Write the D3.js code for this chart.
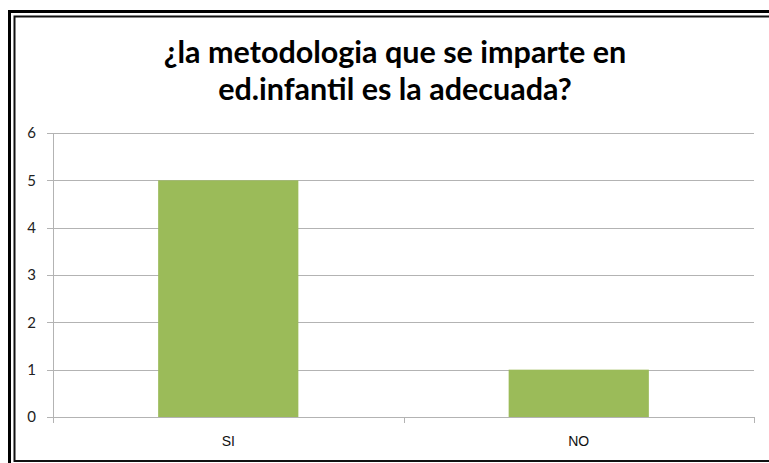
<!DOCTYPE html>
<html lang="es">
  <head>
    <meta charset="UTF-8" />
    <title>Metodologia ed.infantil</title>
    <script src="https://d3js.org/d3.v7.min.js"></script>
    <style>
      body {
        margin: 0;
        background: #fff;
      }
      svg {
        display: block;
      }
      .grid line {
        stroke: #b3b3b3;
        stroke-width: 1;
      }
      .title {
        font-family: Lato, sans-serif;
        font-weight: bold;
        font-size: 30.5px;
        fill: #000;
      }
    </style>
  </head>
  <body>
    <div id="chart"></div>
    <script>
      // datos
      const categories = ["SI", "NO"];
      const values = [5, 1];
      const yTicks = [0, 1, 2, 3, 4, 5, 6];
      const titleLines = ["¿la metodologia que se imparte en", "ed.infantil es la adecuada?"];

      const width = 769;
      const height = 463;
      const margin = { top: 133, right: 15, bottom: 46, left: 53 };
      const plotW = width - margin.left - margin.right;
      const plotH = height - margin.top - margin.bottom;

      const svg = d3
        .select("#chart")
        .append("svg")
        .attr("width", width)
        .attr("height", height);

      // marco doble
      svg.append("rect")
        .attr("x", 9.5).attr("y", 11.5)
        .attr("width", 800).attr("height", 460)
        .attr("fill", "none").attr("stroke", "#000").attr("stroke-width", 3);
      svg.append("rect")
        .attr("x", 14.5).attr("y", 16.5)
        .attr("width", 800).attr("height", 444.5)
        .attr("fill", "none").attr("stroke", "#111").attr("stroke-width", 2);

      // titulo
      svg.append("text")
        .attr("class", "title")
        .attr("text-anchor", "middle")
        .selectAll("tspan")
        .data(titleLines)
        .join("tspan")
        .attr("x", 395)
        .attr("y", (d, i) => 63 + i * 37)
        .text((d) => d);

      const g = svg.append("g")
        .attr("transform", `translate(${margin.left},${margin.top})`);

      const x = d3.scaleBand()
        .domain(categories)
        .range([0, plotW])
        .paddingInner(0.6)
        .paddingOuter(0.3);

      const y = d3.scaleLinear().domain([0, 6]).range([plotH, 0]);

      // lineas de cuadricula
      g.append("g")
        .attr("class", "grid")
        .selectAll("line")
        .data(yTicks)
        .join("line")
        .attr("x1", -6)
        .attr("x2", plotW)
        .attr("y1", (d) => Math.round(y(d)) + 0.5)
        .attr("y2", (d) => Math.round(y(d)) + 0.5);

      // eje y
      const yAxis = g.append("g")
        .call(d3.axisLeft(y).tickValues(yTicks).tickFormat(d3.format("d")).tickSize(0).tickPadding(17));
      yAxis.select(".domain").attr("stroke", "#b3b3b3").attr("d", `M0.5,${plotH}V0`);
      yAxis.selectAll("text")
        .attr("font-family", "Lato, sans-serif")
        .attr("font-size", 15)
        .attr("fill", "#222");

      // barras
      g.selectAll(".bar")
        .data(values)
        .join("rect")
        .attr("class", "bar")
        .attr("x", (d, i) => x(categories[i]))
        .attr("y", (d) => y(d))
        .attr("width", x.bandwidth())
        .attr("height", (d) => y(0) - y(d))
        .attr("fill", "#9bbb59");

      // eje x
      g.append("g")
        .selectAll("line")
        .data([0, plotW / 2, plotW])
        .join("line")
        .attr("x1", (d) => Math.round(d) + 0.5)
        .attr("x2", (d) => Math.round(d) + 0.5)
        .attr("y1", plotH)
        .attr("y2", plotH + 6)
        .attr("stroke", "#b3b3b3");
      g.append("line")
        .attr("x1", 0).attr("x2", plotW)
        .attr("y1", Math.round(plotH) + 0.5).attr("y2", Math.round(plotH) + 0.5)
        .attr("stroke", "#b3b3b3");

      g.append("g")
        .selectAll("text")
        .data(categories)
        .join("text")
        .attr("x", (d) => x(d) + x.bandwidth() / 2)
        .attr("y", plotH + 29)
        .attr("text-anchor", "middle")
        .attr("font-family", "Liberation Sans, Arial, sans-serif")
        .attr("font-size", 14)
        .attr("fill", "#111")
        .text((d) => d);
    </script>
  </body>
</html>
